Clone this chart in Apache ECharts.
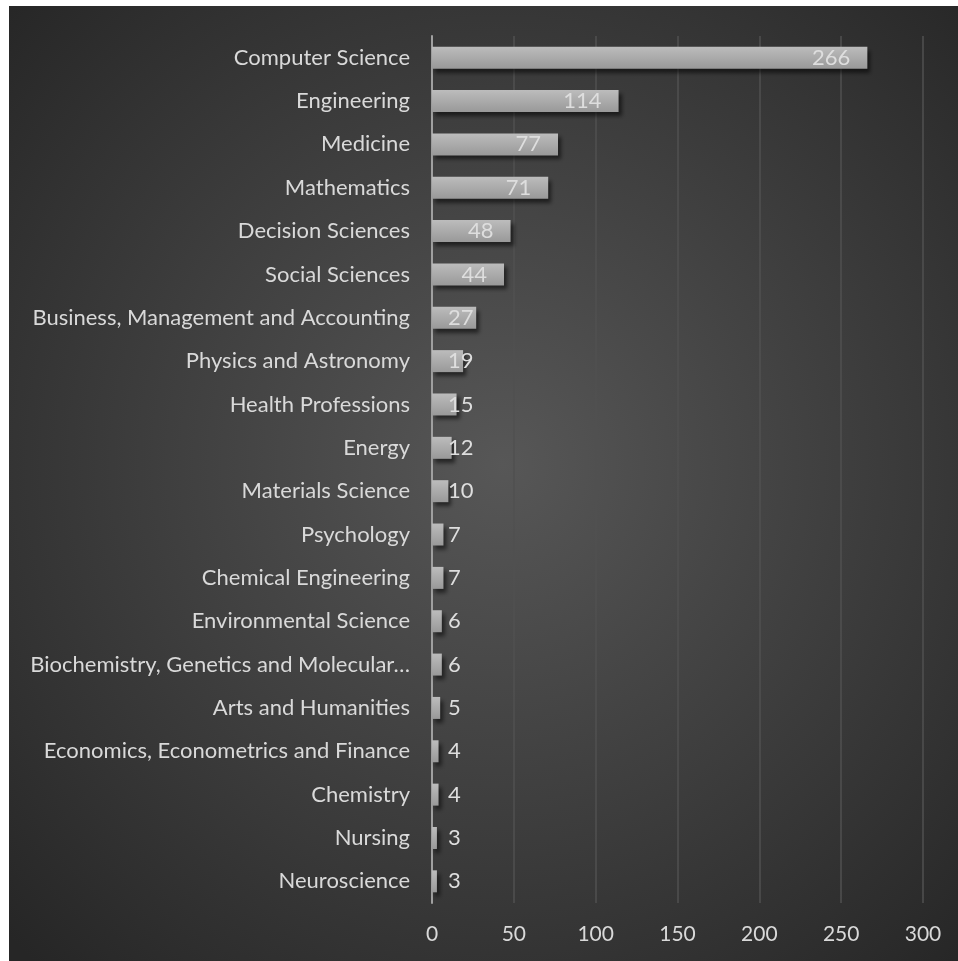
<!DOCTYPE html>
<html>
<head>
<meta charset="utf-8">
<script src="https://cdn.jsdelivr.net/npm/echarts@6/dist/echarts.min.js"></script>
<style>
html,body{margin:0;padding:0;background:#fff;}
#c{width:958px;height:961px;}
</style>
</head>
<body>
<div id="c"></div>
<script>
const categories = [
  "Computer Science","Engineering","Medicine","Mathematics","Decision Sciences",
  "Social Sciences","Business, Management and Accounting","Physics and Astronomy",
  "Health Professions","Energy","Materials Science","Psychology","Chemical Engineering",
  "Environmental Science","Biochemistry, Genetics and Molecular\u2026","Arts and Humanities",
  "Economics, Econometrics and Finance","Chemistry","Nursing","Neuroscience"
];
const values = [266,114,77,71,48,44,27,19,15,12,10,7,7,6,6,5,4,4,3,3];
const xTicks = [0,50,100,150,200,250,300];

const FONT = "Lato, 'Open Sans', sans-serif";
const chart = echarts.init(document.getElementById('c'));

const seriesData = values.map(v => ({
  value: v,
  label: v >= 40
    ? {position: 'insideRight', distance: 17}
    : {position: 'insideLeft', distance: 16}
}));

chart.setOption({
  backgroundColor: '#ffffff',
  animation: false,
  graphic: [{
    type: 'rect', z: -10, silent: true,
    shape: {x: 9, y: 6, width: 949, height: 955},
    style: {
      fill: new echarts.graphic.RadialGradient(0.52, 0.48, 0.72, [
        {offset: 0, color: '#575757'},
        {offset: 1, color: '#262626'}
      ])
    }
  }],
  grid: {left: 432, right: 35, top: 36, bottom: 58, containLabel: false},
  xAxis: {
    type: 'value', min: xTicks[0], max: xTicks[xTicks.length-1], interval: 50,
    axisLine: {show: false}, axisTick: {show: false},
    splitLine: {show: true, lineStyle: {color: '#505050', width: 1.5}},
    axisLabel: {color: '#d9d9d9', fontFamily: FONT, fontSize: 21, margin: 21}
  },
  yAxis: {
    type: 'category', data: categories, inverse: true,
    axisLine: {show: true, lineStyle: {color: '#a0a0a0', width: 2}},
    axisTick: {show: false},
    axisLabel: {color: '#d9d9d9', fontFamily: FONT, fontSize: 22, margin: 22}
  },
  series: [{
    type: 'bar', data: seriesData, barWidth: 22,
    itemStyle: {
      color: new echarts.graphic.LinearGradient(0, 0, 0, 1, [
        {offset: 0, color: '#bcbcbc'},
        {offset: 1, color: '#999999'}
      ]),
      shadowColor: 'rgba(0,0,0,0.55)', shadowBlur: 4, shadowOffsetX: 3, shadowOffsetY: 4
    },
    label: {
      show: true, color: '#dedede', fontFamily: FONT, fontSize: 22
    }
  }]
});
</script>
</body>
</html>
